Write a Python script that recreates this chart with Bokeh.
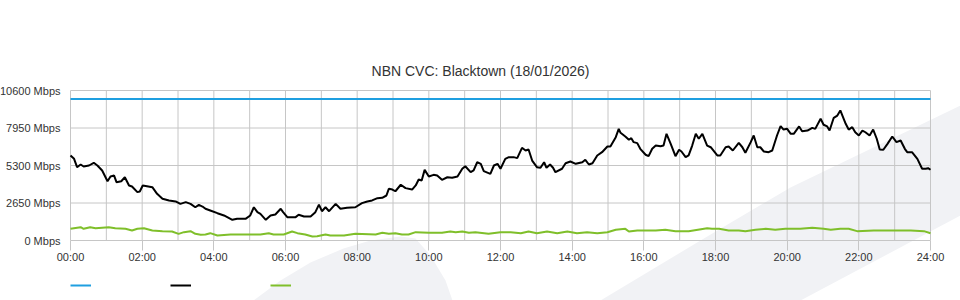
from bokeh.plotting import figure
from bokeh.models import Range1d, FixedTicker, Legend, LegendItem, Label
from bokeh.embed import file_html
from bokeh.resources import INLINE

title_text = "NBN CVC: Blacktown (18/01/2026)"

x_ticks = list(range(0, 1441, 120))
x_tick_labels = ["00:00", "02:00", "04:00", "06:00", "08:00", "10:00", "12:00",
                 "14:00", "16:00", "18:00", "20:00", "22:00", "24:00"]
x_grid_ticks = list(range(0, 1441, 60))
y_ticks = [0, 2650, 5300, 7950, 10600]
y_tick_labels = ["0 Mbps", "2650 Mbps", "5300 Mbps", "7950 Mbps", "10600 Mbps"]

# capacity (blue)
capacity_time = [0, 1440]
capacity = [10000, 10000]

# traffic (black), minutes since midnight
traffic_time = [0, 6, 11, 17, 22, 31, 39, 45, 53, 62, 67, 73, 77, 85, 91, 98, 103, 112, 116, 121,
                128, 137, 145, 154, 165, 176, 184, 193, 201, 209, 215, 221, 226, 234,
                246, 257, 271, 279, 293, 301, 307, 313, 318, 327, 335, 343, 352, 356, 363, 377,
                382, 391, 402, 410, 416, 421, 427, 433, 444, 452, 463, 477,
                488, 497, 505, 514, 522, 529, 533, 539, 544, 553, 561, 572, 578, 583, 588, 593,
                600, 608, 614, 622, 631, 639, 648, 656, 661, 670, 675, 681, 687, 692, 703, 709,
                715, 720,
                728, 734, 742, 748, 756, 762, 767, 773, 781, 787, 793, 797, 803, 808, 812, 823,
                829, 837, 846, 857, 862, 868, 874, 882, 890, 899, 904, 913, 918, 921, 929, 935,
                939, 943, 949, 954, 963,
                968, 974, 980, 988, 993, 998, 1005, 1013, 1019, 1023, 1030, 1035, 1041, 1047,
                1052, 1058, 1066, 1072, 1083, 1088, 1097, 1102, 1109, 1119, 1125, 1130, 1139,
                1144, 1150, 1155, 1161, 1169, 1175, 1183, 1189, 1194, 1200, 1206,
                1211, 1220, 1225, 1234, 1242, 1247, 1256, 1261, 1267, 1271, 1278, 1284, 1289,
                1298, 1303, 1309, 1314, 1320, 1326, 1331, 1338, 1344, 1350, 1355, 1361, 1368,
                1376, 1383, 1390, 1397, 1401, 1409, 1418, 1426, 1432, 1436, 1440]
traffic = [6010, 5770, 5180, 5370, 5230, 5300, 5490, 5300, 4950, 4190, 4520, 4590, 4120, 4190,
           4470, 3890, 3820, 3420, 3460, 3890, 3840, 3770, 3300, 2950, 2830, 2760, 2590, 2710,
           2590, 2350, 2520, 2400, 2240, 2120,
           1930, 1770, 1460, 1530, 1530, 1770, 2350, 2000, 1880, 1460, 1770, 1840, 2240, 2000,
           1650, 1650, 1820, 1700, 1700, 2000, 2540, 2070, 2350, 2070, 2590, 2240, 2310, 2350,
           2640, 2760, 2830, 2990, 3020, 3180, 3650, 3600, 3480, 3940, 3700, 3600, 3890, 4310,
           4240, 4990, 4520, 4640, 4590, 4290, 4470, 4430, 4520, 5070, 5250, 4830, 4950, 5530,
           5420, 4900, 4710, 5300, 5420, 5070,
           5770, 5890, 5890, 5820, 6550, 6360, 6430, 5650, 5180, 5140, 5530, 5140, 5370, 5140,
           4830, 5070, 5460, 5580, 5420, 5530, 5700, 5370, 5460, 6010, 6240, 6640, 6640, 7300,
           7890, 7610, 7350, 7120, 7230, 6950, 6880, 6480, 6060,
           5960, 6480, 6710, 6660, 6710, 7540, 6830, 5960, 6410, 6290, 5890, 6010, 6710, 7540,
           7190, 7540, 6710, 6590, 6010, 6010, 6590, 6640, 6360, 6900, 6590, 6200, 6950, 7420,
           6590, 6590, 6290, 6240, 6360, 7420, 8080, 7840, 7890, 7540,
           7540, 8060, 7720, 7770, 7960, 7890, 8600, 8180, 8060, 7770, 8670, 8830, 9190, 8250,
           7840, 8010, 7650, 7420, 7770, 7650, 7420, 7840, 7190, 6430, 6410, 6830, 7350, 6950,
           7070, 6480, 6240, 6240, 5770, 5070, 5070, 5110, 5000]

# green series, minutes since midnight
green_time = [0, 17, 22, 33, 42, 64, 75, 92, 103, 112, 123, 137, 154, 170, 181, 190, 201, 209,
              218, 226, 234, 246, 268, 290, 318, 332, 340, 357, 371, 380, 393, 405, 413, 427,
              435, 458, 477, 511, 522, 533, 544, 555, 566, 578, 600, 622, 636, 645, 656, 667,
              678, 700, 720, 737, 754, 767, 781, 798, 815, 832, 848, 865, 882, 899, 913, 929,
              935, 949, 963, 980, 996, 1013, 1035, 1066, 1074, 1086, 1102, 1119, 1130, 1147,
              1164, 1180, 1197, 1206, 1222, 1242, 1261, 1273, 1289, 1303, 1317, 1345, 1362,
              1384, 1407, 1429, 1440]
green = [827, 942, 827, 942, 870, 942, 870, 827, 707, 827, 870, 707, 660, 640, 471, 589, 660,
         471, 400, 420, 518, 353, 424, 424, 424, 518, 424, 424, 636, 518, 424, 283, 306, 424,
         353, 353, 471, 424, 541, 471, 518, 424, 424, 589, 541, 541, 636, 589, 636, 541, 589,
         471, 589, 589, 518, 636, 518, 636, 518, 636, 518, 589, 518, 589, 754, 825, 636, 707,
         707, 707, 754, 660, 660, 872, 825, 825, 707, 707, 660, 754, 825, 754, 825, 825, 825,
         896, 825, 754, 825, 825, 660, 707, 707, 707, 707, 660, 518]

# ---- layout (the plot frame fills the page; data area 70..930 x 90..240 px) ----
W, H = 960, 300
AREA_L, AREA_R, AREA_T, AREA_B = 70, 930, 90, 240
X_MIN, X_MAX = x_ticks[0], x_ticks[-1]
Y_MIN, Y_MAX = y_ticks[0], y_ticks[-1]
x_per_px = (X_MAX - X_MIN) / (AREA_R - AREA_L)
y_per_px = (Y_MAX - Y_MIN) / (AREA_B - AREA_T)
x_range = Range1d(X_MIN - AREA_L * x_per_px, X_MAX + (W - AREA_R) * x_per_px)
y_range = Range1d(Y_MIN - (H - AREA_B) * y_per_px, Y_MAX + AREA_T * y_per_px)


def px_x(px):
    return X_MIN + (px - AREA_L) * x_per_px


def px_y(py):
    return Y_MIN + (AREA_B - py) * y_per_px


# background watermark (decoration, page pixels)
wm_band_px = [(600, 300), (700, 240), (790, 187), (960, 105), (960, 215), (800, 300)]
wm_blob_px = [(253, 300), (280, 280), (310, 262), (343, 248), (370, 240), (400, 236),
              (415, 238), (430, 255), (445, 280), (452, 300)]

GRID = "#c6c6c6"
TEXT = "#333333"
FONT = "Liberation Sans"

p = figure(width=W, height=H, x_range=x_range, y_range=y_range,
           output_backend="svg", toolbar_location=None, min_border=0)
p.background_fill_color = "white"
p.border_fill_color = "white"
p.outline_line_color = None
p.grid.visible = False

for shape in (wm_band_px, wm_blob_px):
    p.patch([px_x(a) for a, b in shape], [px_y(b) for a, b in shape],
            fill_color="#f1f2f5", line_color=None)

# grid
p.segment(x0=x_grid_ticks, y0=[Y_MIN] * len(x_grid_ticks),
          x1=x_grid_ticks, y1=[Y_MAX] * len(x_grid_ticks), line_color=GRID, line_width=1)
p.segment(x0=[X_MIN] * len(y_ticks), y0=y_ticks, x1=[X_MAX] * len(y_ticks), y1=y_ticks,
          line_color=GRID, line_width=1)

xa = p.xaxis[0]
xa.fixed_location = Y_MIN
xa.bounds = (X_MIN, X_MAX)
xa.ticker = FixedTicker(ticks=x_ticks)
xa.major_label_overrides = dict(zip(x_ticks, x_tick_labels))
xa.axis_line_color = None
xa.major_tick_line_color = GRID
xa.major_tick_out = 10
xa.major_tick_in = 0
xa.minor_tick_line_color = None
xa.major_label_standoff = 0
xa.major_label_text_font = FONT
xa.major_label_text_font_size = "11px"
xa.major_label_text_color = TEXT

ya = p.yaxis[0]
ya.fixed_location = X_MIN
ya.bounds = (Y_MIN, Y_MAX)
ya.ticker = FixedTicker(ticks=y_ticks)
ya.major_label_overrides = dict(zip(y_ticks, y_tick_labels))
ya.axis_line_color = None
ya.major_tick_line_color = None
ya.major_tick_out = 0
ya.major_tick_in = 0
ya.minor_tick_line_color = None
ya.major_label_standoff = 10
ya.major_label_text_font = FONT
ya.major_label_text_font_size = "11px"
ya.major_label_text_color = TEXT

r_cap = p.line(capacity_time, capacity, line_color="#1f9fe0", line_width=2)
r_green = p.line(green_time, green, line_color="#7fbf2a", line_width=2)
r_traffic = p.line(traffic_time, traffic, line_color="black", line_width=2)

p.add_layout(Label(x=W / 2, y=H - 70, x_units="screen", y_units="screen", text=title_text,
                   text_align="center", text_baseline="middle", text_font=FONT,
                   text_font_size="14px", text_color=TEXT))

legend = Legend(items=[LegendItem(label="", renderers=[r_cap]),
                       LegendItem(label="", renderers=[r_traffic]),
                       LegendItem(label="", renderers=[r_green])],
                orientation="horizontal", location=(AREA_L, 10), padding=0, margin=0,
                spacing=0, glyph_width=21, glyph_height=10, label_width=79, label_height=10,
                label_standoff=0, label_text_font_size="8px",
                border_line_color=None, background_fill_alpha=0)
p.add_layout(legend)

open("out.html", "w").write(file_html(p, INLINE))
